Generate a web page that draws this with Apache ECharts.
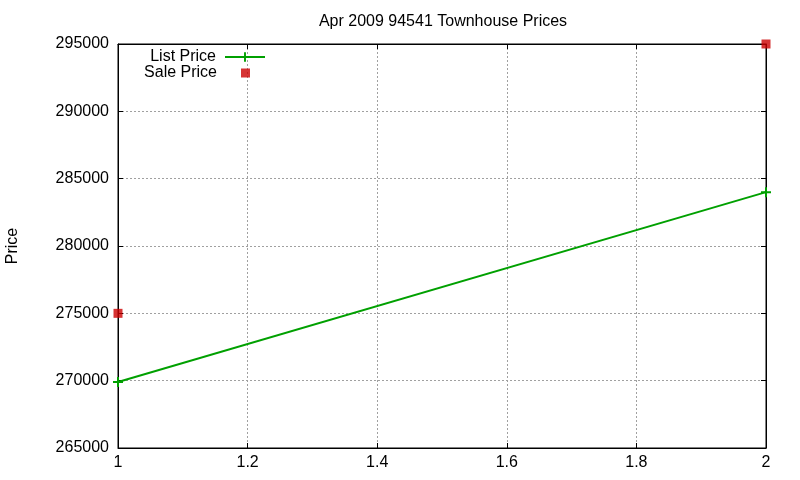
<!DOCTYPE html>
<html>
<head>
<meta charset="utf-8">
<script src="https://cdn.jsdelivr.net/npm/echarts@6/dist/echarts.min.js"></script>
<style>
  html, body { margin: 0; padding: 0; background: #fff; }
  #main { width: 800px; height: 480px; }
</style>
</head>
<body>
<div id="main"></div>
<script>
// data
const xValues = [1, 2];
const listPrice = [269900, 284000];
const salePrice = [275000, 295000];

const fontFamily = '"Liberation Sans", Arial, sans-serif';
const plusPath = 'path://M0,4L4,4L4,0L6,0L6,4L10,4L10,6L6,6L6,10L4,10L4,6L0,6Z';

var myChart = echarts.init(document.getElementById('main'));
var option;

var gridLine = { show: true, lineStyle: { color: '#a0a0a0', width: 1, type: [2, 2] } };

option = {
  animation: false,
  title: {
    text: 'Apr 2009 94541 Townhouse Prices',
    left: 438,
    textAlign: 'center',
    top: 9,
    textStyle: { fontFamily: fontFamily, fontSize: 16, fontWeight: 'normal', color: '#000' }
  },
  legend: [
    {
      data: ['List Price'],
      right: 534,
      top: 49,
      padding: 0,
      align: 'right',
      itemWidth: 40,
      itemHeight: 12,
      textStyle: { fontFamily: fontFamily, fontSize: 16, color: '#000', padding: [0, 4, 0, 0] }
    },
    {
      data: ['Sale Price'],
      right: 550,
      top: 65,
      padding: 0,
      align: 'right',
      itemWidth: 9,
      itemHeight: 9,
      textStyle: { fontFamily: fontFamily, fontSize: 16, color: '#000', padding: [0, 19, 0, 0] }
    }
  ],
  grid: {
    left: 118, right: 34, top: 44, bottom: 32,
    outerBoundsMode: 'none',
    show: true, borderColor: '#000', borderWidth: 1
  },
  xAxis: [
    {
      type: 'value', min: 1, max: 2, interval: 0.2,
      axisLine: { lineStyle: { color: '#000' } },
      axisTick: { inside: true, length: 5, lineStyle: { color: '#000' } },
      axisLabel: { color: '#000', fontFamily: fontFamily, fontSize: 16, margin: 7 },
      splitLine: gridLine
    },
    {
      type: 'value', min: 1, max: 2, interval: 0.2, position: 'top',
      axisLine: { lineStyle: { color: '#000' } },
      axisTick: { inside: true, length: 5, lineStyle: { color: '#000' } },
      axisLabel: { show: false },
      splitLine: { show: false }
    }
  ],
  yAxis: [
    {
      type: 'value', min: 265000, max: 295000, interval: 5000,
      name: 'Price', nameLocation: 'middle', nameGap: 97, nameRotate: 90,
      nameTextStyle: { color: '#000', fontFamily: fontFamily, fontSize: 16 },
      axisLine: { show: true, lineStyle: { color: '#000' } },
      axisTick: { show: true, inside: true, length: 5, lineStyle: { color: '#000' } },
      axisLabel: { color: '#000', fontFamily: fontFamily, fontSize: 16, margin: 9, formatter: v => String(v) },
      splitLine: gridLine
    },
    {
      type: 'value', min: 265000, max: 295000, interval: 5000, position: 'right',
      axisLine: { show: true, lineStyle: { color: '#000' } },
      axisTick: { show: true, inside: true, length: 5, lineStyle: { color: '#000' } },
      axisLabel: { show: false },
      splitLine: { show: false }
    }
  ],
  series: [
    {
      name: 'List Price',
      type: 'line',
      data: xValues.map((x, i) => [x, listPrice[i]]),
      symbol: plusPath,
      symbolSize: 10,
      showSymbol: true,
      lineStyle: { color: '#00a000', width: 2 },
      itemStyle: { color: '#00a000' },
      z: 3
    },
    {
      name: 'Sale Price',
      type: 'scatter',
      data: xValues.map((x, i) => [x, salePrice[i]]),
      symbol: 'rect',
      symbolSize: 9,
      itemStyle: { color: '#cc0000' },
      z: 4
    }
  ]
};

option && myChart.setOption(option);
</script>
</body>
</html>
